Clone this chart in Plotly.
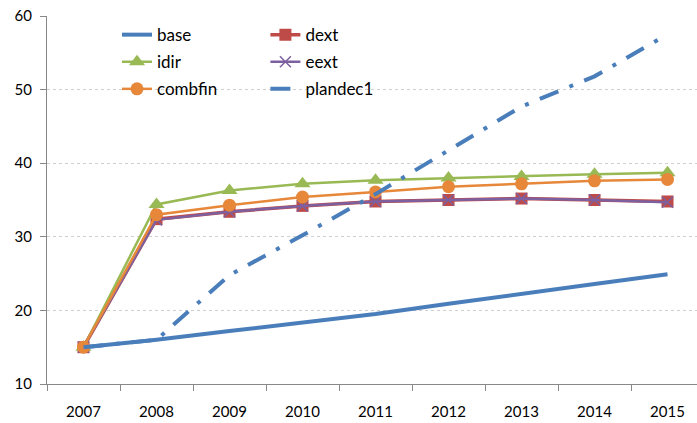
import plotly.graph_objects as go

years = ["2007", "2008", "2009", "2010", "2011", "2012", "2013", "2014", "2015"]
base = [15.0, 16.0, 17.2, 18.4, 19.5, 20.9, 22.3, 23.6, 24.9]
dext = [15.0, 32.4, 33.4, 34.2, 34.8, 35.0, 35.2, 35.0, 34.8]
idir = [15.0, 34.4, 36.3, 37.2, 37.7, 38.0, 38.2, 38.5, 38.7]
eext = [15.0, 32.3, 33.4, 34.2, 34.8, 35.0, 35.2, 35.0, 34.7]
combfin = [15.0, 33.0, 34.3, 35.4, 36.1, 36.8, 37.2, 37.6, 37.8]
plandec1 = [15.0, 16.0, 24.8, 30.2, 35.8, 41.7, 47.7, 51.8, 57.5]

FONT = "Lato"
fig = go.Figure()
fig.add_trace(go.Scatter(x=years, y=base, name="base", mode="lines", legendgroup="a",
                         line=dict(color="#4A7EBB", width=4), legend="legend"))
fig.add_trace(go.Scatter(x=years, y=dext, name="dext", mode="lines+markers", legendgroup="b",
                         line=dict(color="#BE4B48", width=3.5),
                         marker=dict(symbol="square", size=12, color="#BE4B48"), legend="legend2"))
fig.add_trace(go.Scatter(x=years, y=idir, name="idir", mode="lines+markers", legendgroup="c",
                         line=dict(color="#98B954", width=2.5),
                         marker=dict(symbol="triangle-up", size=14, color="#98B954"), legend="legend"))
fig.add_trace(go.Scatter(x=years, y=eext, name="eext", mode="lines+markers", legendgroup="d",
                         line=dict(color="#7D60A0", width=2.5),
                         marker=dict(symbol="x-thin", size=11, color="#7D60A0",
                                     line=dict(color="#7D60A0", width=1.5)), legend="legend2"))
fig.add_trace(go.Scatter(x=years, y=combfin, name="combfin", mode="lines+markers", legendgroup="e",
                         line=dict(color="#E6873A", width=2.5),
                         marker=dict(symbol="circle", size=13, color="#E6873A"), legend="legend"))
fig.add_trace(go.Scatter(x=years, y=plandec1, name="plandec1", mode="lines", legendgroup="f",
                         line=dict(color="#4A7EBB", width=4, dash="20px,12px,4px,12px"), legend="legend2"))

legfont = dict(family=FONT, size=17, color="#000000")
fig.update_layout(
    width=697, height=423,
    margin=dict(l=47, r=0, t=16, b=39),
    paper_bgcolor="white", plot_bgcolor="white",
    font=dict(family=FONT, size=15, color="#000000"),
    legend=dict(x=0.1077, y=0.997, xanchor="left", yanchor="top", bgcolor="rgba(0,0,0,0)",
                font=legfont, tracegroupgap=2, itemwidth=30),
    legend2=dict(x=0.336, y=0.997, xanchor="left", yanchor="top", bgcolor="rgba(0,0,0,0)",
                 font=legfont, tracegroupgap=2, itemwidth=30),
    xaxis=dict(type="category", tickson="boundaries", ticks="outside", ticklen=6,
               tickcolor="#888888", showline=True, linecolor="#888888", linewidth=1,
               showgrid=False, range=[-0.5, 8.404], tickfont=dict(family=FONT, size=15),
               automargin=False, ticklabelstandoff=14, ticklabeloverflow="allow"),
    yaxis=dict(range=[10, 60], dtick=10, ticks="outside", ticklen=6, tickcolor="#888888",
               showline=True, linecolor="#888888", linewidth=1,
               showgrid=True, gridcolor="#CFCFCF", griddash="dot", gridwidth=1,
               zeroline=False, tickfont=dict(family=FONT, size=15), automargin=False,
               ticklabeloverflow="allow", ticklabelstandoff=5),
)
fig.write_html("out.html", config={"displayModeBar": False},
               post_script="document.body.style.margin='0';")
